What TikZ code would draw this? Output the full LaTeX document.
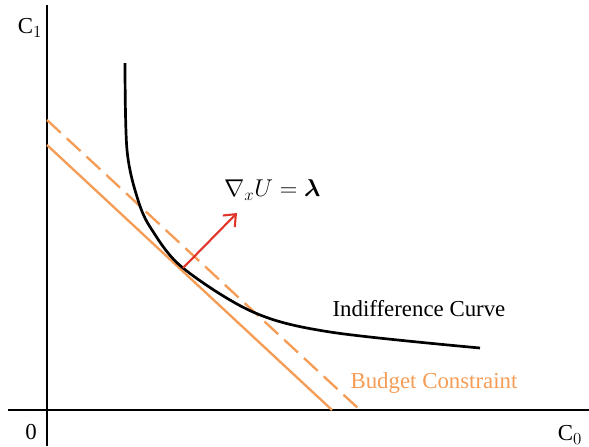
\documentclass[tikz,border=0pt]{standalone}
\usepackage{amsmath}
\usepackage{fontspec}
\setmainfont{Liberation Serif}
\usetikzlibrary{arrows.meta}
\definecolor{budOrange}{HTML}{F59D56}
\definecolor{gradRed}{HTML}{E0352B}

\begin{document}
\begin{tikzpicture}[x=0.03cm, y=-0.03cm,
          ax/.style={black, line width=1.1pt},
          bud/.style={budOrange, line width=2pt},
          lbl/.style={inner sep=0pt, font=\fontsize{19.5}{22}\selectfont}]
        \useasboundingbox (0,0) rectangle (589,446);
        % axes
        \draw[ax] (47,5) -- (47,446);
        \draw[ax] (8,410) -- (589,410);
        \node[lbl] (cone) at (30,28) {$\mathrm{C}_1$};
        \node[lbl] (zero) at (31,432) {0};
        \node[lbl] (czero) at (570,435) {$\mathrm{C}_0$};
        % budget lines
        \draw[bud] (47,145) -- (332,410);
        \draw[bud, dash pattern=on 16pt off 7pt] (47,120) -- (360,410);
        % indifference curve
        \draw[black, line width=2.3pt] plot[smooth, tension=0.55] coordinates
          {(125,63) (127,150) (138,200) (152,230) (183,268) (253,312) (330,332) (480,348)};
        % gradient arrow
        \coordinate (tan) at (183,268);
        \coordinate (tip) at (237,213);
        \draw[gradRed, line width=1.8pt, -{Straight Barb[length=3mm, width=5mm]}] (tan) -- (tip);
        \node[lbl, anchor=west] (grad) at (224,190) {$\nabla_{x} U = \boldsymbol{\lambda}$};
        \node[lbl] (icurve) at (419,309) {Indifference Curve};
        \node[lbl, text=budOrange] (bconst) at (434,383) {Budget Constraint};
      \end{tikzpicture}
\end{document}
